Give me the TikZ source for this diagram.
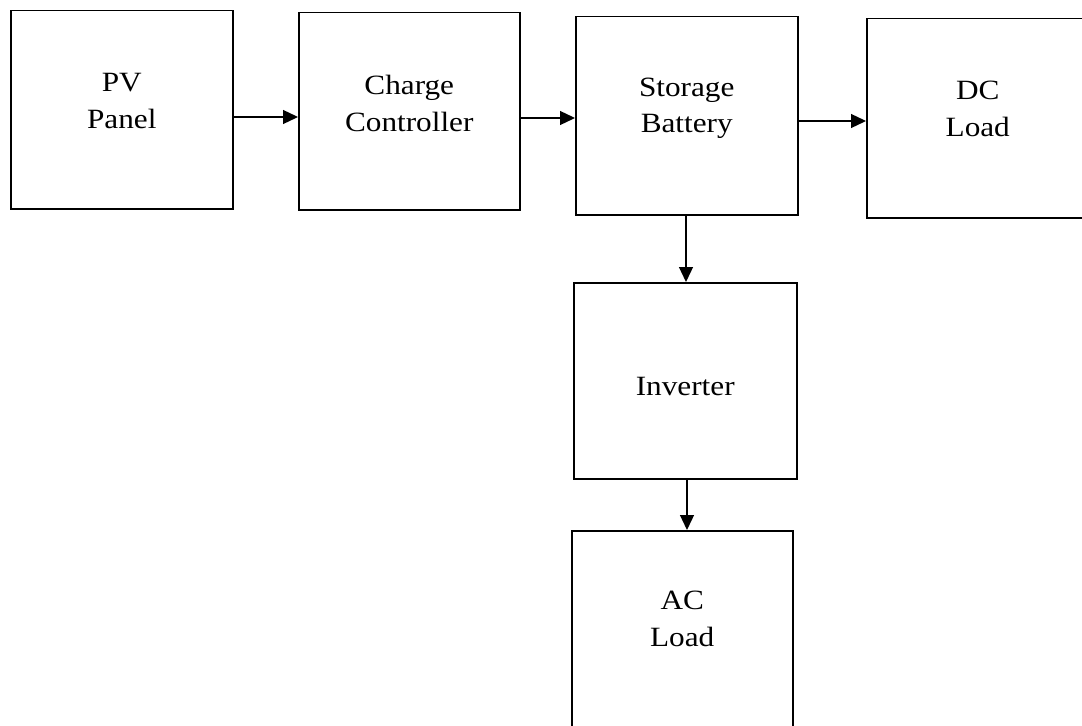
\documentclass[tikz,border=0pt]{standalone}
\usepackage{fontspec}
\setmainfont{Liberation Serif}[FakeStretch=1.12]
\usetikzlibrary{arrows.meta}
\begin{document}
\begin{tikzpicture}[x=1bp,y=-1bp,
  blk/.style={draw=black,line width=1.5bp,rectangle,inner sep=0pt,anchor=north west},
  lbl/.style={align=center,inner sep=0pt,font={\fontsize{28}{37}\selectfont}},
  arr/.style={line width=1.3bp,-{Triangle[length=15bp,width=14bp]}}]
\useasboundingbox (0,0) rectangle (1082,726);
\fill[white] (0,0) rectangle (1082,726);
\node[blk,minimum width=222bp,minimum height=198bp] (pv) at (10,10) {};
\node[blk,minimum width=221bp,minimum height=197bp] (cc) at (298,12) {};
\node[blk,minimum width=222bp,minimum height=198bp] (sb) at (575,16) {};
\node[blk,minimum width=222bp,minimum height=199bp] (dc) at (866,18) {};
\node[blk,minimum width=223bp,minimum height=196bp] (inv) at (573,282) {};
\node[blk,minimum width=221bp,minimum height=215bp] (ac) at (571,530) {};
\node[lbl] (tpv) at ([yshift=9bp]pv.center) {PV\\Panel};
\node[lbl] (tcc) at ([yshift=8bp]cc.center) {Charge\\Controller};
\node[lbl] (tsb) at ([yshift=7.5bp]sb.center) {Storage\\Battery};
\node[lbl] (tdc) at ([yshift=9bp]dc.center) {DC\\Load};
\node[lbl] (tinv) at ([yshift=-6bp]inv.center) {Inverter};
\node[lbl] (tac) at (ac.north |- 0,618.5) {AC\\Load};
\draw[arr] (pv.east |- 0,117) -- (cc.west |- 0,117);
\draw[arr] (cc.east |- 0,118) -- (sb.west |- 0,118);
\draw[arr] (sb.east |- 0,121) -- (dc.west |- 0,121);
\draw[arr] (sb.south -| 686,0) -- (inv.north -| 686,0);
\draw[arr] (inv.south -| 687,0) -- (ac.north -| 687,0);
\end{tikzpicture}
\end{document}
